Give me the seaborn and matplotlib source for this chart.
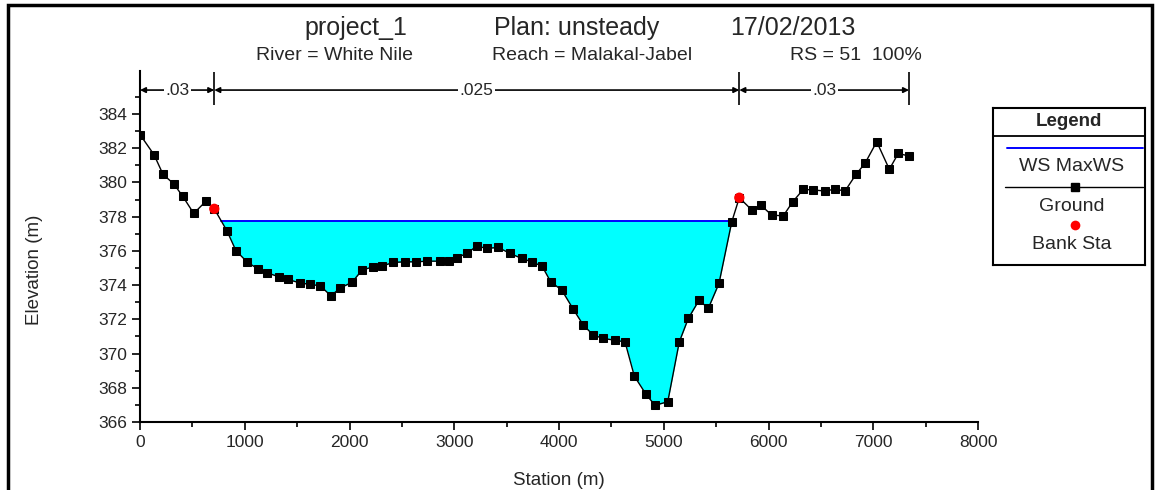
import numpy as np
import matplotlib
matplotlib.use("Agg")
import matplotlib.pyplot as plt
import seaborn as sns
from matplotlib.ticker import MultipleLocator

# ground profile (station m, elevation m)
station = [0, 134, 220, 322, 408, 513, 630, 709, 831, 916, 1021, 1126, 1212, 1324, 1413,
           1525, 1626, 1721, 1823, 1912, 2024, 2119, 2227, 2310, 2418, 2530, 2635, 2740,
           2864, 2950, 3023, 3119, 3214, 3310, 3421, 3532, 3644, 3739, 3838, 3921, 4026,
           4137, 4232, 4327, 4423, 4535, 4630, 4719, 4831, 4916, 5038, 5148, 5234, 5337,
           5425, 5527, 5649, 5721, 5840, 5926, 6030, 6141, 6231, 6332, 6428, 6539, 6635,
           6730, 6835, 6921, 7033, 7153, 7239, 7341]
elevation = [382.8, 381.62, 380.47, 379.92, 379.19, 378.19, 378.91, 378.46, 377.16, 376.01,
             375.36, 374.94, 374.72, 374.49, 374.33, 374.13, 374.04, 373.96, 373.37, 373.84,
             374.16, 374.88, 375.07, 375.11, 375.33, 375.36, 375.36, 375.4, 375.4, 375.4,
             375.6, 375.85, 376.28, 376.15, 376.2, 375.85, 375.56, 375.36, 375.11, 374.19,
             373.71, 372.58, 371.66, 371.08, 370.88, 370.78, 370.68, 368.68, 367.61, 366.98,
             367.18, 370.68, 372.05, 373.12, 372.64, 374.1, 377.7, 379.11, 378.39, 378.68,
             378.09, 378.05, 378.87, 379.6, 379.56, 379.5, 379.61, 379.5, 380.47, 381.12,
             382.38, 380.77, 381.7, 381.54]
bank_sta = [709, 5721]
bank_elev = [378.46, 379.11]
ws_max = 377.76
n_values = [".03", ".025", ".03"]
n_breaks = [0, 709, 5721, 7341]
title_parts = ["project_1", "Plan: unsteady", "17/02/2013"]
subtitle_parts = ["River = White Nile", "Reach = Malakal-Jabel", "RS = 51  100%"]

sns.set_style("ticks")
plt.rcParams["font.family"] = ["Liberation Sans", "DejaVu Sans"]

st = np.array(station, dtype=float)
el = np.array(elevation)

fig = plt.figure(figsize=(11.58, 4.9), dpi=100)
ax = fig.add_axes([0.1209, 0.1388, 0.7237, 0.7158])

# water surface limits where it meets the ground
below = el < ws_max
i0 = int(np.argmax(below))
i1 = len(el) - 1 - int(np.argmax(below[::-1]))
ws_left = np.interp(ws_max, [el[i0], el[i0 - 1]], [st[i0], st[i0 - 1]])
ws_right = np.interp(ws_max, [el[i1], el[i1 + 1]], [st[i1], st[i1 + 1]])

ax.fill_between(st, el, ws_max, where=below, interpolate=True, color="#00FFFF", linewidth=0)
ax.plot([ws_left, ws_right], [ws_max, ws_max], color="#0000FF", lw=1.4)

ground = {"Station": station, "Elevation": elevation}
sns.lineplot(data=ground, x="Station", y="Elevation", ax=ax, color="black", lw=1,
             marker="s", markersize=6, markeredgecolor="black", sort=False)
sns.scatterplot(x=bank_sta, y=bank_elev, ax=ax, color="red", s=55, edgecolor="none",
                zorder=5)

# manning's n brackets along the top
y_n = 385.4
ax.vlines(n_breaks, 384.5, 386.45, color="black", lw=1.2)
for k, lab in enumerate(n_values):
    a, b = n_breaks[k], n_breaks[k + 1]
    ax.annotate("", xy=(b, y_n), xytext=(a, y_n),
                arrowprops=dict(arrowstyle="<|-|>", color="black", lw=1.2,
                                mutation_scale=8, shrinkA=0, shrinkB=0))
    ax.text((a + b) / 2, y_n, lab, ha="center", va="center", fontsize=12.5,
            bbox=dict(facecolor="white", edgecolor="none", pad=1))

ax.set_xlim(0, 8000)
ax.set_ylim(366, 386.5)
ax.xaxis.set_major_locator(MultipleLocator(1000))
ax.xaxis.set_minor_locator(MultipleLocator(500))
ax.set_yticks(np.arange(366, 385, 2))
ax.set_yticks(np.arange(366, 386, 1), minor=True)
ax.tick_params(which="major", length=6, width=1.2, labelsize=12.5, color="black")
ax.tick_params(which="minor", length=3.5, width=1.2, color="black")
for s in ["top", "right"]:
    ax.spines[s].set_visible(False)
for s in ["left", "bottom"]:
    ax.spines[s].set_linewidth(1.5)
    ax.spines[s].set_color("black")
ax.set_xlabel("Station (m)", fontsize=13.5, labelpad=16)
ax.set_ylabel("Elevation (m)", fontsize=13.5)
ax.yaxis.set_label_coords(-0.1158, 0.433)

for txt, xc in zip(title_parts, [356, 577, 793]):
    fig.text(xc / 1158, 1 - 28 / 490, txt, ha="center", va="center", fontsize=18)
for txt, xc in zip(subtitle_parts, [334, 592, 856]):
    fig.text(xc / 1158, 1 - 55 / 490, txt, ha="center", va="center", fontsize=14)

# legend box, drawn in pixel coordinates
lg = fig.add_axes([993 / 1158, 1 - 265 / 490, 152 / 1158, 157 / 490])
lg.set_xlim(993, 1145)
lg.set_ylim(265, 108)
lg.set_xticks([])
lg.set_yticks([])
for s in lg.spines.values():
    s.set_linewidth(1.5)
    s.set_color("black")
lg.axhline(136, color="black", lw=1.3)
lg.text(1069, 122, "Legend", ha="center", va="center", fontsize=13.5, fontweight="bold")
lg.plot([1007, 1143], [148, 148], color="#0000FF", lw=1.4)
lg.text(1072, 166, "WS MaxWS", ha="center", va="center", fontsize=14)
lg.plot([1005, 1143], [187, 187], color="black", lw=1)
lg.plot([1075], [187], marker="s", color="black", markersize=6)
lg.text(1072, 206, "Ground", ha="center", va="center", fontsize=14)
lg.plot([1075], [225], marker="o", color="red", markersize=7, markeredgecolor="none")
lg.text(1072, 244, "Bank Sta", ha="center", va="center", fontsize=14)

# outer frame of the window
frame = plt.Rectangle((8 / 1158, -0.1), 1144 / 1158, 1.1 - 5 / 490, transform=fig.transFigure,
                      fill=False, edgecolor="black", lw=2.5)
fig.patches.append(frame)

fig.savefig("out.png", dpi=100)
